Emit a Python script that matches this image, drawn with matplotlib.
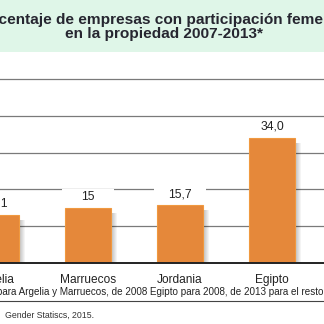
import matplotlib.pyplot as plt
from matplotlib.patches import Rectangle
import numpy as np

plt.rcParams['font.family'] = ['Liberation Sans', 'DejaVu Sans']

# Datos
paises = ['Argelia', 'Marruecos', 'Jordania', 'Egipto']
valores = [13.1, 15.0, 15.7, 34.0]
etiquetas = ['13,1', '15', '15,7', '34,0']
lineas_guia = [10, 20, 30, 40, 50]

titulo = 'Porcentaje de empresas con participación femenina\nen la propiedad 2007-2013*'
nota = '*Datos de 2007 para Argelia y Marruecos, de 2008 Egipto para 2008, de 2013 para el resto'
fuente = 'Gender Statiscs, 2015.'

W = H = 324
fig = plt.figure(figsize=(3.24, 3.24), dpi=100)

def fx(px):
    return px / W

def fy(py):
    return 1 - py / H

# banda del título
fig.patches.append(Rectangle((0, fy(52)), 1, 52 / H, transform=fig.transFigure,
                             facecolor='#dff6e8', edgecolor='none', zorder=0))
fig.text(fx(164), fy(27), titulo, ha='center', va='center', fontsize=11.1,
         fontweight='bold', color='#262630', linespacing=1.0)

# ejes: base en y=263 px, 50 % en y=79 px; 92 px entre barras
ax = fig.add_axes([0, fy(263), 1, (263 - 79) / H])
ax.set_xlim(4 / 92, 328 / 92)
ax.set_ylim(0, 50)
ax.axis('off')

x = np.arange(len(paises))
for g in lineas_guia:
    ax.axhline(g, color='#7a7a7a', lw=0.9, zorder=1, clip_on=False)
ax.axhline(0, color='#222222', lw=1.4, zorder=4, clip_on=False)

# sombra difusa a la derecha de las barras
for k in range(1, 7):
    ax.bar(x + 0.25 + 0.011 * k / 2, np.array(valores) - 1.0, width=0.011 * k,
           bottom=-0.3, color='black', alpha=0.045, lw=0, zorder=2)

ax.bar(x, valores, width=0.5, color='#e5883a', edgecolor='#f0993f',
       linewidth=0.8, zorder=3)

for xi, v, t in zip(x, valores, etiquetas):
    ax.add_patch(Rectangle((xi - 0.28, v + 1.2), 0.56, 3.8,
                           facecolor='white', edgecolor='none', zorder=1.5))
    ax.text(xi, v + 3.0, t, ha='center', va='center', fontsize=8.7,
            color='#222222', zorder=5)
    ax.text(xi, -4.6, paises[xi], ha='center', va='center', fontsize=8.6,
            color='#222222', clip_on=False)

fig.text(fx(323), fy(292), nota, ha='right', va='center', fontsize=7.1,
         color='#222222')
fig.add_artist(plt.Line2D([0, 1], [fy(301), fy(301)], color='#444444', lw=0.8))
fig.text(fx(5), fy(315), fuente, ha='left', va='center', fontsize=6.3,
         color='#333333')

fig.savefig('out.png', dpi=100, facecolor='white')
